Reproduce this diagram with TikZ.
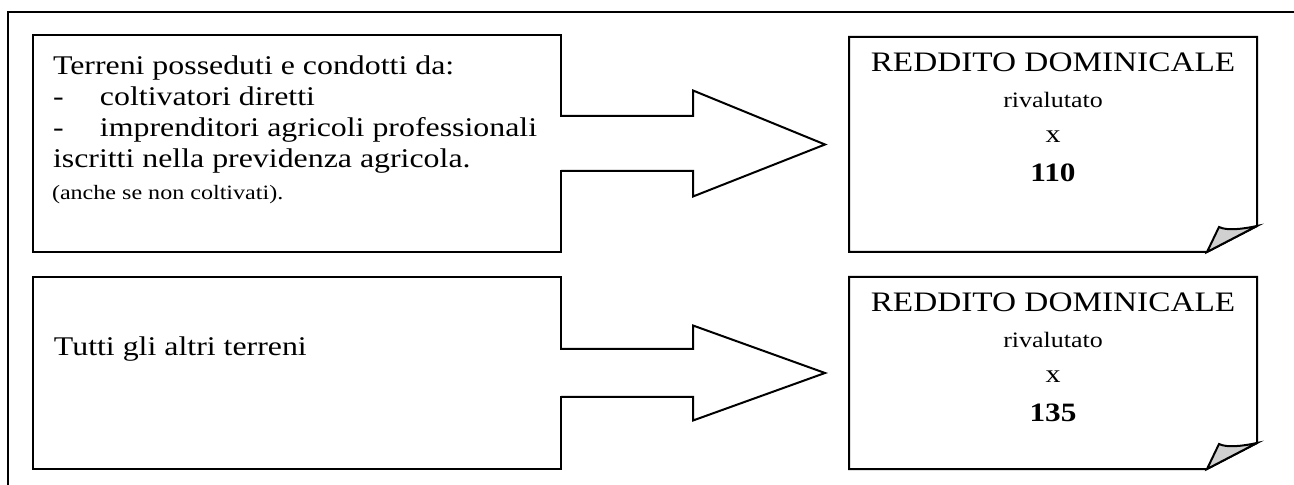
\documentclass[tikz,border=0pt]{standalone}
\usepackage{fontspec}
\setmainfont[FakeStretch=1.18]{Liberation Serif}
\usetikzlibrary{calc}
\definecolor{foldgray}{HTML}{D0D0D0}

\begin{document}
\begin{tikzpicture}[
  x=0.5pt,y=-0.5pt,
  line width=1pt,
  every node/.style={inner sep=0pt,outer sep=0pt},
  box/.style={draw,fill=white,anchor=north west,minimum width=264pt},
  note/.style={anchor=north west,minimum width=204pt},
  blk/.style={draw,fill=white,line join=miter},
  ltxt/.style={anchor=base west,font=\fontsize{13.5}{16}\selectfont},
  rtxt/.style={anchor=base,font=\fontsize{14.1}{16}\selectfont}
]
\useasboundingbox (0,0) rectangle (1294,485);
\draw (8,485) |- (1294,12);

% left boxes
\node[box,minimum height=108.5pt] (terrA) at (33,35) {};
\node[box,minimum height=96pt] (terrB) at (33,277) {};

% right boxes with folded corner
\node[note,minimum height=107.5pt] (redA) at (849,37) {};
\node[note,minimum height=96pt] (redB) at (849,277) {};
\foreach \r in {redA,redB}{
  \draw[fill=white] (\r.south west) -- (\r.north west) -- (\r.north east)
    -- ($(\r.south east)+(0,-26)$) -- ($(\r.south east)+(-50,0)$) -- cycle;
  \draw[fill=foldgray] ($(\r.south east)+(-50,0)$) -- ($(\r.south east)+(-38,-25)$)
    .. controls ($(\r.south east)+(-30,-21)$) and ($(\r.south east)+(-14,-23)$)
    .. ($(\r.south east)+(0,-26)$) -- cycle;
}

% block arrows
\fill[white] ($(terrA.east)+(-2,-26.5)$) rectangle ($(terrA.east)+(2,26.5)$);
\draw[blk] ($(terrA.east)+(0,-27.5)$) -- ++(132,0) -- ++(0,-25.5)
  -- ($(redA.west)+(-24,0)$) -- ($(terrA.east)+(132,53)$) -- ++(0,-25.5)
  -- ($(terrA.east)+(0,27.5)$);
\fill[white] ($(terrB.east)+(-2,-23)$) rectangle ($(terrB.east)+(2,23)$);
\draw[blk] ($(terrB.east)+(0,-24)$) -- ++(132,0) -- ++(0,-23.5)
  -- ($(redB.west)+(-24,0)$) -- ($(terrB.east)+(132,47.5)$) -- ++(0,-23.5)
  -- ($(terrB.east)+(0,24)$);

% texts
\node[ltxt] (lineA1) at ($(terrA.north west)+(20,40)$) {Terreni posseduti e condotti da:};
\node[ltxt] (lineA2) at ($(terrA.north west)+(20,71)$) {\makebox[23.5pt][l]{-}coltivatori diretti};
\node[ltxt] (lineA3) at ($(terrA.north west)+(20,102)$) {\makebox[23.5pt][l]{-}imprenditori agricoli professionali};
\node[ltxt] (lineA4) at ($(terrA.north west)+(20,133)$) {iscritti nella previdenza agricola.};
\node[ltxt,font=\fontsize{10.2}{12}\selectfont] (lineA5) at ($(terrA.north west)+(19,165)$) {(anche se non coltivati).};
\node[ltxt] (lineB1) at ($(terrB.north west)+(21,79)$) {Tutti gli altri terreni};

\node[rtxt] (redA1) at ($(redA.north)+(0,35)$) {REDDITO DOMINICALE};
\node[rtxt,font=\fontsize{11}{13}\selectfont] (redA2) at ($(redA.north)+(0,71)$) {rivalutato};
\node[rtxt,font=\fontsize{12.7}{14}\selectfont] (redA3) at ($(redA.north)+(0,106)$) {x};
\node[rtxt,font=\fontsize{13.25}{15}\selectfont\bfseries] (redA4) at ($(redA.north)+(0,145)$) {110};
\node[rtxt] (redB1) at ($(redB.north)+(0,35)$) {REDDITO DOMINICALE};
\node[rtxt,font=\fontsize{11}{13}\selectfont] (redB2) at ($(redB.north)+(0,71)$) {rivalutato};
\node[rtxt,font=\fontsize{12.7}{14}\selectfont] (redB3) at ($(redB.north)+(0,106)$) {x};
\node[rtxt,font=\fontsize{13.25}{15}\selectfont\bfseries] (redB4) at ($(redB.north)+(0,145)$) {135};
\end{tikzpicture}
\end{document}
